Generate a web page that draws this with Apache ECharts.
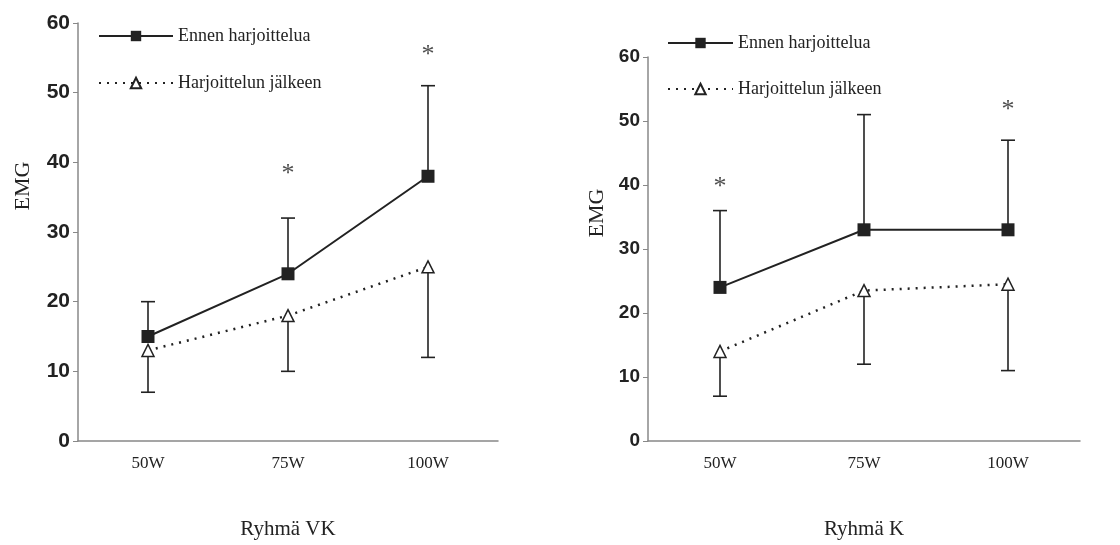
<!DOCTYPE html>
<html style="height: 100%">
<head>
    <meta charset="utf-8">
</head>
<body style="height: 100%; margin: 0; background: #fff">
<div id="container" style="width: 1120px; height: 545px"></div>
<script type="text/javascript" src="https://cdn.jsdelivr.net/npm/echarts@6/dist/echarts.min.js"></script>
<script type="text/javascript">
    // data
    var categories = ['50W', '75W', '100W'];
    var seriesNames = ['Ennen harjoittelua', 'Harjoittelun jälkeen'];

    // Ryhmä VK (left)
    var vkBefore = [15, 24, 38];
    var vkBeforeUpper = [20, 32, 51];
    var vkAfter = [13, 18, 25];
    var vkAfterLower = [7, 10, 12];
    var vkStars = [[1, 38.3], [2, 55.4]];

    // Ryhmä K (right)
    var kBefore = [24, 33, 33];
    var kBeforeUpper = [36, 51, 47];
    var kAfter = [14, 23.5, 24.5];
    var kAfterLower = [7, 12, 11];
    var kStars = [[0, 39.7], [2, 51.7]];

    var yTicks = [0, 10, 20, 30, 40, 50, 60];

    var ink = '#222';
    var serif = '"Liberation Serif", "DejaVu Serif", serif';
    var sans = '"Liberation Sans Narrow", "Liberation Sans", Arial, sans-serif';

    function errData(centre, bound) {
        return centre.map(function (v, i) { return [i, v, bound[i]]; });
    }

    function errorBars(name, idx, centre, bound) {
        return {
            name: name + ' err',
            type: 'custom',
            xAxisIndex: idx,
            yAxisIndex: idx,
            z: 1,
            silent: true,
            data: errData(centre, bound),
            renderItem: function (params, api) {
                var a = api.coord([api.value(0), api.value(1)]);
                var b = api.coord([api.value(0), api.value(2)]);
                var st = {stroke: ink, lineWidth: 1.6};
                return {
                    type: 'group',
                    children: [
                        {type: 'line', shape: {x1: a[0], y1: a[1], x2: a[0], y2: b[1]}, style: st},
                        {type: 'line', shape: {x1: a[0] - 7, y1: b[1], x2: a[0] + 7, y2: b[1]}, style: st}
                    ]
                };
            }
        };
    }

    function beforeLine(idx, data) {
        return {
            name: seriesNames[0],
            type: 'line',
            xAxisIndex: idx,
            yAxisIndex: idx,
            z: 3,
            data: data,
            symbol: 'rect',
            symbolSize: 13,
            itemStyle: {color: ink},
            lineStyle: {color: ink, width: 2}
        };
    }

    function afterLine(idx, data) {
        return {
            name: seriesNames[1],
            type: 'line',
            xAxisIndex: idx,
            yAxisIndex: idx,
            z: 3,
            data: data,
            symbol: 'triangle',
            symbolSize: 12,
            itemStyle: {color: '#fff', borderColor: ink, borderWidth: 1.5},
            lineStyle: {color: ink, width: 2.5, type: [2, 6]}
        };
    }

    function stars(idx, data) {
        return {
            type: 'scatter',
            xAxisIndex: idx,
            yAxisIndex: idx,
            data: data,
            symbolSize: 1,
            itemStyle: {color: 'rgba(0,0,0,0)'},
            silent: true,
            label: {
                show: true,
                position: 'inside',
                formatter: '*',
                color: ink,
                fontFamily: serif,
                fontSize: 26
            }
        };
    }

    function xAxis(idx, title) {
        return {
            type: 'category',
            gridIndex: idx,
            data: categories,
            name: title,
            nameLocation: 'middle',
            nameGap: 78,
            nameTextStyle: {fontFamily: serif, fontSize: 21, color: ink},
            axisLine: {lineStyle: {color: '#888', width: 1.5}},
            axisTick: {lineStyle: {color: '#888'}, length: 6},
            axisLabel: {fontFamily: serif, fontSize: 17, color: ink, margin: 14}
        };
    }

    function yAxis(idx, size, gap, lift) {
        return {
            type: 'value',
            gridIndex: idx,
            min: yTicks[0],
            max: yTicks[yTicks.length - 1],
            interval: 10,
            name: 'EMG',
            nameLocation: 'middle',
            nameRotate: 90,
            nameGap: gap,
            nameTextStyle: {fontFamily: serif, fontSize: 22, color: ink, padding: [0, 0, 0, lift * 2]},
            splitLine: {show: false},
            axisLine: {show: true, lineStyle: {color: '#888', width: 1.5}},
            axisTick: {show: true, length: 5, lineStyle: {color: '#888'}},
            axisLabel: {fontFamily: sans, fontWeight: 'bold', fontSize: size, color: ink, margin: 8}
        };
    }

    var dom = document.getElementById('container');
    var myChart = echarts.init(dom);
    var option = {
        animation: false,
        backgroundColor: '#fff',
        grid: [
            {left: 78, top: 23, width: 420, height: 420},
            {left: 648, top: 57, width: 432, height: 386}
        ],
        legend: [
            {
                orient: 'vertical', left: 93, top: 22, itemWidth: 74, itemHeight: 13, itemGap: 29,
                data: seriesNames,
                textStyle: {fontFamily: serif, fontSize: 18, color: ink}
            },
            {
                orient: 'vertical', left: 662, top: 29, itemWidth: 65, itemHeight: 13, itemGap: 28,
                data: seriesNames,
                textStyle: {fontFamily: serif, fontSize: 18, color: ink}
            }
        ],
        xAxis: [xAxis(0, 'Ryhmä VK'), xAxis(1, 'Ryhmä K')],
        yAxis: [yAxis(0, 21, 44, 46), yAxis(1, 19, 40, 36)],
        series: [
            errorBars('vk before', 0, vkBefore, vkBeforeUpper),
            errorBars('vk after', 0, vkAfter, vkAfterLower),
            beforeLine(0, vkBefore),
            afterLine(0, vkAfter),
            stars(0, vkStars),
            errorBars('k before', 1, kBefore, kBeforeUpper),
            errorBars('k after', 1, kAfter, kAfterLower),
            beforeLine(1, kBefore),
            afterLine(1, kAfter),
            stars(1, kStars)
        ]
    };
    myChart.setOption(option, true);
</script>
</body>
</html>
